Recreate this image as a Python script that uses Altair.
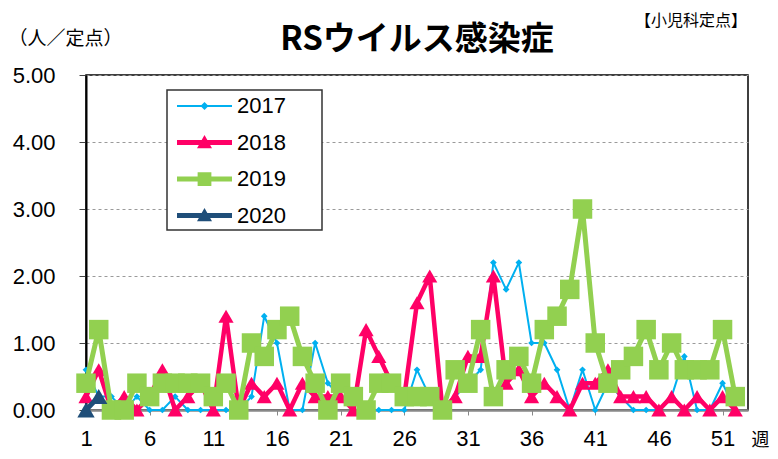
import altair as alt
import pandas as pd

weeks = list(range(1, 53))
years = ["2017", "2018", "2019", "2020"]
colors = ["#00B0F0", "#FF0066", "#92D050", "#1F4E79"]

y2017 = [0.6, 0.2, 0.2, 0.0, 0.2, 0.0, 0.0, 0.2, 0.0, 0.0,
         0.0, 0.0, 0.0, 0.2, 1.4, 1.0, 0.0, 0.0, 1.0, 0.4,
         0.2, 0.0, 0.0, 0.0, 0.0, 0.0, 0.6, 0.2, 0.0, 0.2,
         0.4, 0.6, 2.2, 1.8, 2.2, 1.0, 1.0, 0.6, 0.0, 0.6,
         0.0, 0.4, 0.2, 0.0, 0.0, 0.0, 0.2, 0.8, 0.0, 0.0,
         0.4, 0.0]
y2018 = [0.2, 0.6, 0.0, 0.2, 0.0, 0.2, 0.6, 0.0, 0.2, 0.4,
         0.0, 1.4, 0.0, 0.4, 0.2, 0.4, 0.0, 0.4, 0.2, 0.2,
         0.2, 0.0, 1.2, 0.8, 0.4, 0.2, 1.6, 2.0, 0.0, 0.2,
         0.8, 0.8, 2.0, 0.4, 0.6, 0.2, 0.4, 0.2, 0.0, 0.4,
         0.4, 0.6, 0.2, 0.2, 0.2, 0.0, 0.2, 0.0, 0.2, 0.0,
         0.2, 0.0]
y2019 = [0.4, 1.2, 0.0, 0.0, 0.4, 0.2, 0.4, 0.4, 0.4, 0.4,
         0.2, 0.4, 0.0, 1.0, 0.8, 1.2, 1.4, 0.8, 0.4, 0.0,
         0.4, 0.2, 0.0, 0.4, 0.4, 0.2, 0.2, 0.2, 0.0, 0.6,
         0.4, 1.2, 0.2, 0.6, 0.8, 0.4, 1.2, 1.4, 1.8, 3.0,
         1.0, 0.4, 0.6, 0.8, 1.2, 0.6, 1.0, 0.6, 0.6, 0.6,
         1.2, 0.2]
y2020 = [0.0, 0.2]

x_ticks = [1, 6, 11, 16, 21, 26, 31, 36, 41, 46, 51]
y_ticks = [0, 1, 2, 3, 4, 5]

rows = []
for yr, vals in zip(years, [y2017, y2018, y2019, y2020]):
    for w, v in zip(weeks, vals):
        rows.append({"week": w, "value": v, "year": yr})
df = pd.DataFrame(rows)

line_w = {"2017": 2, "2018": 4.5, "2019": 5, "2020": 5}
marker = {"2017": ("diamond", 45), "2018": ("triangle-up", 230),
          "2019": ("square", 380), "2020": ("triangle-up", 300)}

p17 = "M-2.2,-0.08H2.2V0.08H-2.2Z M0,-0.32L0.32,0L0,0.32L-0.32,0Z"
p18 = "M-2.2,-0.2H2.2V0.2H-2.2Z M0,-0.6L0.6,0.45L-0.6,0.45Z"
p19 = "M-2.2,-0.2H2.2V0.2H-2.2Z M-0.55,-0.55H0.55V0.55H-0.55Z"
p20 = "M-2.2,-0.2H2.2V0.2H-2.2Z M0,-0.6L0.6,0.45L-0.6,0.45Z"
shape_sig = (f"datum.value == '2017' ? '{p17}' : datum.value == '2018' ? '{p18}' : "
             f"datum.value == '2019' ? '{p19}' : '{p20}'")

legend = alt.Legend(
    title=None, orient="none", legendX=81, legendY=15, padding=3.5,
    symbolSize=625, symbolOffset=21.5, labelOffset=20, rowPadding=12.5,
    labelFont="Liberation Sans", labelFontSize=22, labelColor="black",
    strokeColor="#333333", fillColor="white",
    labelExpr="datum.label + '\u2800\u2800'",
    symbolType=alt.ExprRef(expr=shape_sig),
    symbolFillColor=alt.ExprRef(expr="scale('color', datum.value)"),
    symbolStrokeWidth=0, symbolOpacity=1,
)

color = alt.Color("year:N", scale=alt.Scale(domain=years, range=colors), legend=legend)
x = alt.X("week:Q", scale=alt.Scale(domain=[1, 53], nice=False, zero=False),
          axis=alt.Axis(values=x_ticks, title="週", titleX=674, titleY=30,
                        titleAlign="center", titleBaseline="middle",
                        titleFont="Noto Sans CJK JP", titleFontSize=18,
                        titleFontWeight="normal", titleColor="black",
                        labelFont="Liberation Sans", labelFontSize=22, labelColor="black",
                        labelPadding=13, tickSize=5, tickColor="#888888",
                        domainColor="#888888", domainWidth=2.5, grid=False,
                        labelFlush=False))
y = alt.Y("value:Q", scale=alt.Scale(domain=[0, 5], nice=False),
          axis=alt.Axis(values=y_ticks, format=".2f", title="（人／定点）",
                        titleX=-78, titleY=-37, titleAngle=0, titleAlign="left",
                        titleBaseline="middle", titleFont="Noto Sans CJK JP",
                        titleFontSize=19, titleFontWeight="normal", titleColor="black",
                        labelFont="Liberation Sans", labelFontSize=22, labelColor="black",
                        labelPadding=24, tickSize=7, tickColor="#444444",
                        domainColor="black", domainWidth=2, grid=True,
                        gridColor="#9a9a9a", gridDash=[3, 3], gridWidth=1))

layers = []
for yr in years:
    base = alt.Chart(df).transform_filter(alt.datum.year == yr)
    layers.append(base.mark_line(strokeWidth=line_w[yr], strokeJoin="round",
                                 strokeCap="round").encode(x=x, y=y, color=color))
    shp, sz = marker[yr]
    layers.append(base.mark_point(shape=shp, size=sz, filled=True, opacity=1)
                  .encode(x=x, y=y, color=color))

texts = pd.DataFrame({"t": ["【小児科定点】", "RSウイルス感染症"]})
note = alt.Chart(texts).transform_filter(alt.datum.t == "【小児科定点】").mark_text(
    align="right", baseline="middle", font="Noto Sans CJK JP", fontSize=16,
    color="black").encode(x=alt.value(661), y=alt.value(-54), text="t:N")
title = alt.Chart(texts).transform_filter(alt.datum.t == "RSウイルス感染症").mark_text(
    align="center", baseline="middle", font="Noto Sans CJK JP", fontSize=33,
    fontWeight="bold", color="black").encode(x=alt.value(331), y=alt.value(-35), text="t:N")
layers += [note, title]

chart = alt.layer(*layers).properties(
    width=662, height=335,
    autosize=alt.AutoSizeParams(type="none"),
    padding={"left": 78, "top": 67, "right": 22, "bottom": 41},
).configure_view(stroke="black", strokeWidth=1.5).configure_legend(strokeWidth=1.5)

chart.save("out.html", embed_options={"renderer": "svg", "actions": False})
